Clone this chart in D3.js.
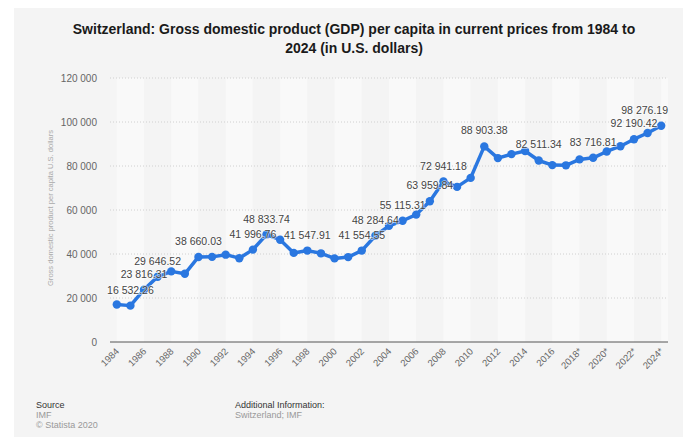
<!DOCTYPE html>
<html lang="en">
<head>
    <meta charset="UTF-8">
    <title>Switzerland GDP per capita</title>
    <script src="https://d3js.org/d3.v7.min.js"></script>
    <style>
        body { margin: 0; background: #fff; }
        text { font-family: "Liberation Sans", Arial, sans-serif; }
    </style>
</head>
<body>
<svg id="chart" width="697" height="442"></svg>

<script>
    // Years on the x axis, one value per year.
    const years = [1984, 1985, 1986, 1987, 1988, 1989, 1990, 1991, 1992, 1993,
        1994, 1995, 1996, 1997, 1998, 1999, 2000, 2001, 2002, 2003,
        2004, 2005, 2006, 2007, 2008, 2009, 2010, 2011, 2012, 2013,
        2014, 2015, 2016, 2017, 2018, 2019, 2020, 2021, 2022, 2023, 2024];

    // GDP per capita in U.S. dollars (labelled values are exact, the rest).
    const gdp = [17050, 16532.26, 23816.31, 29646.52, 32100, 31000, 38660.03, 38700, 39700, 38100,
        41996.76, 48833.74, 46500, 40500, 41547.91, 40300, 38000, 38600, 41554.55, 48284.64,
        52800, 55115.31, 57900, 63959.84, 72941.18, 70500, 74600, 88903.38, 83600, 85400,
        86800, 82511.34, 80400, 80300, 83000, 83716.81, 86600, 89000, 92190.42, 95000, 98276.19];

    // Years that carry a value label.
    const labelledYears = [1985, 1986, 1987, 1990, 1994, 1995, 1998, 2002, 2003, 2005,
        2007, 2008, 2011, 2015, 2019, 2022, 2024];

    // Tick labels, every second year; the forecasts are starred.
    const tickYears = [1984, 1986, 1988, 1990, 1992, 1994, 1996, 1998, 2000, 2002, 2004,
        2006, 2008, 2010, 2012, 2014, 2016, 2018, 2020, 2022, 2024];
    const tickLabels = ["1984", "1986", "1988", "1990", "1992", "1994", "1996", "1998", "2000",
        "2002", "2004", "2006", "2008", "2010", "2012", "2014", "2016", "2018*", "2020*", "2022*", "2024*"];

    const yTicks = [0, 20000, 40000, 60000, 80000, 100000, 120000];

    const data = years.map((yr, i) => ({year: yr, value: gdp[i]}));

    const plot = {left: 110, right: 668, top: 78, bottom: 342};

    const svg = d3.select("#chart");

    // Grey panel behind everything.
    svg.append("rect")
        .attr("x", 14).attr("y", 8)
        .attr("width", 669).attr("height", 429)
        .attr("fill", "#f4f4f4");

    const x = d3.scaleBand().domain(years).range([plot.left, plot.right]).padding(0);
    const cx = d => x(d) + x.bandwidth() / 2;
    const y = d3.scaleLinear().domain([0, 120000]).range([plot.bottom, plot.top]);

    // Plot background with alternating two-year bands.
    svg.append("rect")
        .attr("x", plot.left).attr("y", plot.top)
        .attr("width", plot.right - plot.left).attr("height", plot.bottom - plot.top)
        .attr("fill", "#f5f5f5");

    svg.append("g")
        .selectAll("rect")
        .data(tickYears)
        .enter().append("rect")
        .attr("x", d => cx(d))
        .attr("y", plot.top)
        .attr("width", d => Math.min(2 * x.bandwidth(), plot.right - cx(d)))
        .attr("height", plot.bottom - plot.top)
        .attr("fill", (d, i) => i % 2 === 0 ? "#f9f9f9" : "#f4f4f4");

    // Horizontal dotted grid lines.
    svg.append("g")
        .selectAll("line")
        .data(yTicks.filter(d => d > 0))
        .enter().append("line")
        .attr("x1", plot.left).attr("x2", plot.right)
        .attr("y1", d => y(d)).attr("y2", d => y(d))
        .attr("stroke", "#d0d0d0")
        .attr("stroke-dasharray", "1,2");

    // Baseline.
    svg.append("line")
        .attr("x1", plot.left).attr("x2", plot.right)
        .attr("y1", y(0)).attr("y2", y(0))
        .attr("stroke", "#555")
        .attr("stroke-width", 1);

    // Y axis labels.
    const fmtTick = d => d3.format(",")(d).replace(/,/g, " ");
    svg.append("g")
        .selectAll("text")
        .data(yTicks)
        .enter().append("text")
        .attr("x", 97)
        .attr("y", d => y(d) + 4)
        .attr("text-anchor", "end")
        .attr("font-size", 10)
        .attr("fill", "#666")
        .text(fmtTick);

    svg.append("text")
        .attr("transform", "translate(53," + ((plot.top + plot.bottom) / 2 - 2) + ") rotate(-90)")
        .attr("text-anchor", "middle")
        .attr("font-size", 8)
        .attr("textLength", 156)
        .attr("lengthAdjust", "spacingAndGlyphs")
        .attr("fill", "#aaa")
        .text("Gross domestic product per capita U.S. dollars");

    // X axis labels, rotated.
    svg.append("g")
        .selectAll("text")
        .data(tickYears)
        .enter().append("text")
        .attr("transform", d => "translate(" + (cx(d) + 3) + ",352) rotate(-45)")
        .attr("text-anchor", "end")
        .attr("font-size", 9.5)
        .attr("fill", "#666")
        .text((d, i) => tickLabels[i]);

    // The line and its markers.
    const line = d3.line().x(d => cx(d.year)).y(d => y(d.value));
    svg.append("path")
        .datum(data)
        .attr("fill", "none")
        .attr("stroke", "#2a77e0")
        .attr("stroke-width", 3.5)
        .attr("stroke-linejoin", "round")
        .attr("d", line);

    svg.append("g")
        .selectAll("circle")
        .data(data)
        .enter().append("circle")
        .attr("cx", d => cx(d.year))
        .attr("cy", d => y(d.value))
        .attr("r", 4.2)
        .attr("fill", "#2a77e0");

    // Value labels.
    const fmtVal = d => d3.format(",.2f")(d).replace(/,/g, " ");
    const labels = svg.append("g")
        .selectAll("text")
        .data(data.filter(d => labelledYears.includes(d.year)))
        .enter().append("text")
        .attr("y", d => y(d.value) - 12)
        .attr("text-anchor", "middle")
        .attr("font-size", 10.5)
        .attr("fill", "#444")
        .attr("stroke", "rgba(255,255,255,0.6)")
        .attr("stroke-width", 1.5)
        .attr("paint-order", "stroke")
        .text(d => fmtVal(d.value));
    labels.each(function (d) {
        const w = this.getComputedTextLength();
        let c = cx(d.year);
        if (c + w / 2 > plot.right) c = plot.right - w / 2;
        d3.select(this).attr("x", c);
    });

    // Title.
    const title = svg.append("text")
        .attr("text-anchor", "middle")
        .attr("font-size", 14)
        .attr("font-weight", "bold")
        .attr("fill", "#1a1a1a");
    title.append("tspan").attr("x", 354).attr("y", 34)
        .text("Switzerland: Gross domestic product (GDP) per capita in current prices from 1984 to");
    title.append("tspan").attr("x", 354).attr("y", 53)
        .text("2024 (in U.S. dollars)");

    // Footer.
    const foot = svg.append("g").attr("font-size", 9);
    foot.append("text").attr("x", 36).attr("y", 408).attr("fill", "#333").text("Source");
    foot.append("text").attr("x", 36).attr("y", 418).attr("fill", "#999").text("IMF");
    foot.append("text").attr("x", 36).attr("y", 428).attr("fill", "#999").text("© Statista 2020");
    foot.append("text").attr("x", 235).attr("y", 408).attr("fill", "#333").text("Additional Information:");
    foot.append("text").attr("x", 235).attr("y", 418).attr("fill", "#999").text("Switzerland; IMF");
</script>
</body>
</html>
